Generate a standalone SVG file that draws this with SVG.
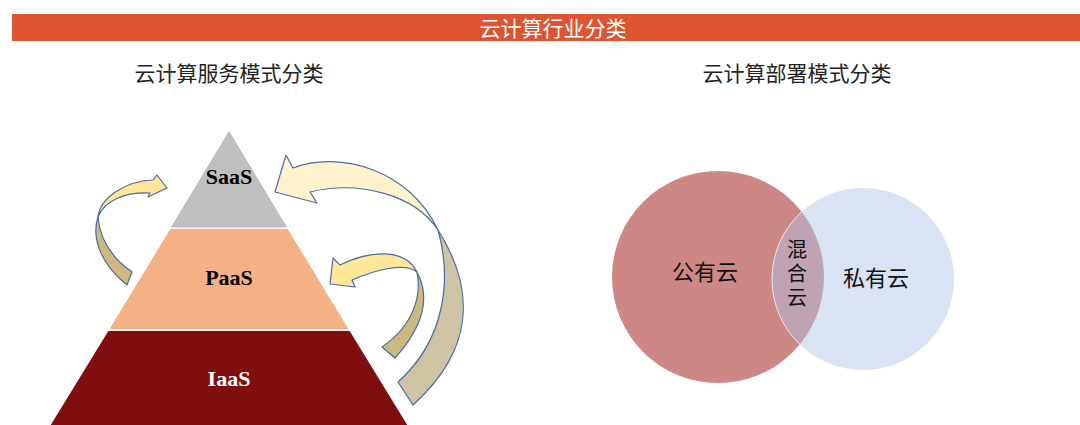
<svg xmlns="http://www.w3.org/2000/svg" width="1080" height="425" viewBox="0 0 1080 425">
<style>
.cjk{font-family:"Noto Sans CJK SC","Noto Sans",sans-serif;}
.lbl{font-family:"Liberation Serif",serif;font-weight:bold;font-size:22px;text-anchor:middle;}
.arr{stroke:#4A6BA5;stroke-width:1.2;stroke-linejoin:round;}
.front1{fill:#FFE699;}
.front2{fill:#FFF2CC;}
.back1{fill:#CDB87E;}
.back2{fill:#CEC3A3;}
</style>
<defs>
<clipPath id="pubclip"><circle cx="718" cy="277" r="106"/></clipPath>
</defs>
<rect width="1080" height="425" fill="#FFFFFF"/>
<g id="header">
<rect x="12" y="14" width="1068" height="27" fill="#DC5430"/>
<text x="553" y="36" class="cjk" font-size="21" fill="#FFFFFF" text-anchor="middle">云计算行业分类</text>
</g>
<g id="subtitle-left"><text x="229" y="81" class="cjk" font-size="21" fill="#222222" text-anchor="middle">云计算服务模式分类</text></g>
<g id="subtitle-right"><text x="797" y="81" class="cjk" font-size="21" fill="#222222" text-anchor="middle">云计算部署模式分类</text></g>
<g id="iaas">
<polygon points="108,330 350,330 410,428 48,428" fill="#7F0F0F" stroke="#FFFFFF" stroke-width="1.5"/>
<text x="229" y="386" class="lbl" fill="#FFFFFF">IaaS</text>
</g>
<g id="paas">
<polygon points="170,228 288,228 350,330 108,330" fill="#F4B183" stroke="#FFFFFF" stroke-width="1.5"/>
<text x="229" y="285" class="lbl" fill="#000000">PaaS</text>
</g>
<g id="saas">
<polygon points="229,130 288,228 170,228" fill="#BFBFBF" stroke="#FFFFFF" stroke-width="1"/>
<text x="229" y="184" class="lbl" fill="#000000">SaaS</text>
</g>
<g id="connectors">
<path class="arr back1" d="M98,217 C92,235 98,262 127,285 L132,272 C112,258 100,240 98,217 Z"/>
<path class="arr front1" d="M98,217 C100,198 125,181 153,180 L157,175 L167,188 L148,197 L150,193 C125,192 105,200 98,217 Z"/>
<path class="arr back1" d="M417,272 C432,300 420,330 395,358 L382,347 C414,325 422,295 417,272 Z"/>
<path class="arr front1" d="M417,272 C405,248 370,250 340,265 L333,258 L330,284 L355,287 L352,280 C375,270 405,262 417,272 Z"/>
<path class="arr back2" d="M438,230 C476,290 474,350 413,405 L398,382 C445,340 452,280 438,230 Z"/>
<path class="arr front2" d="M438,230 C410,170 340,150 293,168 L286,155 L275,192 L317,203 L310,192 C360,180 415,195 438,230 Z"/>
</g>
<g id="public-cloud">
<circle cx="718" cy="277" r="106" fill="#CD8886"/>
<text x="705" y="280" class="cjk" font-size="22" fill="#111111" text-anchor="middle">公有云</text>
</g>
<g id="private-cloud">
<circle cx="863" cy="279" r="91" fill="#DAE3F3"/>
<text x="876" y="286" class="cjk" font-size="22" fill="#111111" text-anchor="middle">私有云</text>
</g>
<g id="hybrid-cloud">
<circle cx="863" cy="279" r="91" fill="#C0A3B3" clip-path="url(#pubclip)"/>
<circle cx="863" cy="279" r="91" fill="none" stroke="#FFFFFF" stroke-width="1" stroke-opacity="0.7" clip-path="url(#pubclip)"/>
<text x="797" y="275" class="cjk" font-size="20" fill="#111111" text-anchor="middle" writing-mode="vertical-rl" letter-spacing="4">混合云</text>
</g>
</svg>
